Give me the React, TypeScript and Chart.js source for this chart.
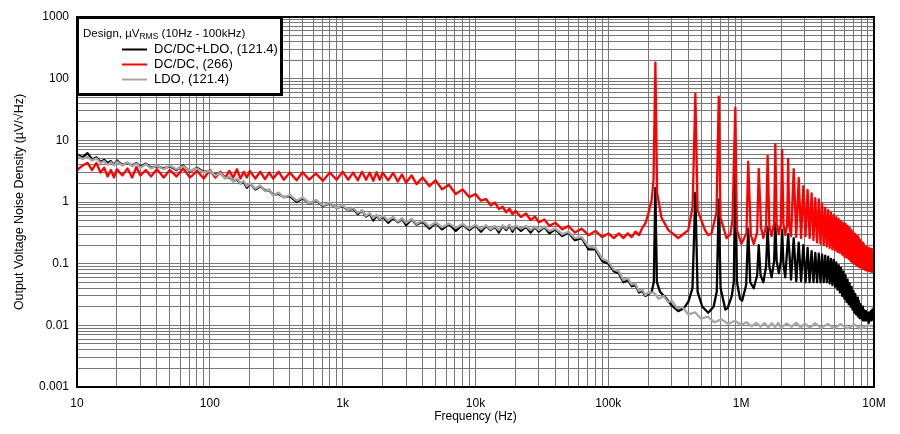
import React, { useEffect, useRef } from 'react';
import { Chart, registerables } from 'chart.js';

Chart.register(...registerables);

// ---------- data ----------
// broadband frequency grid, 10 Hz .. 200 kHz
const FREQ_BB = [
  10, 11, 12, 13, 14, 15, 16, 17, 18, 19, 20, 22, 24, 26, 28, 30, 33, 36, 40, 45, 50, 56, 63, 71, 80, 90,
  100, 110, 120, 130, 140, 150, 160, 170, 180, 190, 200, 220, 240, 260, 280, 300, 330, 360, 400, 450, 500, 560, 630, 710, 800, 900,
  1000, 1100, 1200, 1300, 1400, 1500, 1600, 1700, 1800, 1900, 2000, 2200, 2400, 2600, 2800, 3000, 3300, 3600, 4000, 4500, 5000, 5600, 6300, 7100, 8000, 9000,
  1e4, 1.1e4, 1.2e4, 1.3e4, 1.4e4, 1.5e4, 1.6e4, 1.7e4, 1.8e4, 1.9e4, 2e4, 2.2e4, 2.4e4, 2.6e4, 2.8e4, 3e4, 3.3e4, 3.6e4, 4e4, 4.5e4, 5e4, 5.6e4, 6.3e4, 7.1e4, 8e4, 9e4,
  1e5, 1.1e5, 1.2e5, 1.3e5, 1.4e5, 1.5e5, 1.6e5, 1.7e5, 1.8e5, 1.9e5, 2e5,
];

// LDO (grey)
const LDO_BB = [
  5.6, 5.0, 5.4, 4.7, 5.1, 4.3, 4.6, 4.0, 4.4, 3.9, 4.5, 3.9, 4.4, 3.8, 4.2, 3.6, 4.1, 3.5, 3.9, 3.4, 3.9, 3.4, 3.8, 3.2, 3.5, 3.0,
  3.2, 2.7, 2.95, 2.4, 2.6, 2.15, 2.4, 2.0, 2.2, 1.8, 2.0, 1.65, 1.85, 1.5, 1.6, 1.28, 1.42, 1.18, 1.3, 1.05, 1.18, 0.96, 1.07, 0.88, 0.97, 0.8,
  0.88, 0.74, 0.8, 0.67, 0.72, 0.6, 0.66, 0.55, 0.62, 0.53, 0.6, 0.5, 0.57, 0.48, 0.55, 0.46, 0.53, 0.44, 0.5, 0.4, 0.47, 0.39, 0.45, 0.38, 0.44, 0.37,
  0.43, 0.36, 0.42, 0.36, 0.41, 0.35, 0.42, 0.37, 0.43, 0.36, 0.42, 0.37, 0.41, 0.35, 0.4, 0.35, 0.4, 0.34, 0.37, 0.3, 0.33, 0.26, 0.27, 0.19, 0.18, 0.12,
  0.108, 0.08, 0.075, 0.054, 0.058, 0.046, 0.047, 0.036, 0.038, 0.031, 0.034,
];
const LDO_HF_FREQ = [
  2.2e5, 2.4e5, 2.6e5, 2.8e5, 3e5, 3.3e5, 3.6e5, 4e5, 4.5e5, 5e5, 5.6e5, 6.3e5, 7.1e5, 8e5, 9e5,
  1e6, 1.1e6, 1.2e6, 1.3e6, 1.4e6, 1.5e6, 1.6e6, 1.7e6, 1.8e6, 1.9e6, 2e6, 2.2e6, 2.4e6, 2.6e6, 2.8e6, 3e6, 3.3e6, 3.6e6, 4e6, 4.5e6, 5e6, 5.6e6, 6.3e6, 7.1e6, 8e6, 9e6,
  1e7,
];
const LDO_HF = [
  0.034, 0.027, 0.03, 0.024, 0.025, 0.019, 0.02, 0.015, 0.0162, 0.0128, 0.0138, 0.0112, 0.0125, 0.0106, 0.0118,
  0.0102, 0.0112, 0.0096, 0.011, 0.0095, 0.0109, 0.0093, 0.0108, 0.0094, 0.0109, 0.0092, 0.0107, 0.0095, 0.011, 0.0093, 0.0106, 0.0092, 0.0109, 0.0091, 0.0105, 0.009, 0.0104, 0.0089, 0.0103, 0.0088, 0.0101,
  0.0096,
];

// DC/DC+LDO (black)
const DCDC_LDO_BB = [
  5.9, 5.3, 6.2, 4.9, 5.3, 4.5, 4.8, 4.3, 4.6, 4.0, 4.7, 4.0, 4.3, 3.9, 4.3, 3.7, 4.2, 3.6, 3.8, 3.5, 3.8, 3.3, 3.9, 3.1, 3.6, 3.1,
  3.1, 2.8, 2.9, 2.5, 2.5, 2.2, 2.3, 2.0, 2.1, 1.7, 2.0, 1.6, 1.8, 1.55, 1.55, 1.3, 1.35, 1.2, 1.25, 1.0, 1.15, 0.95, 1.05, 0.86, 0.95, 0.8,
  0.86, 0.73, 0.78, 0.64, 0.72, 0.58, 0.64, 0.5, 0.6, 0.52, 0.58, 0.46, 0.55, 0.47, 0.53, 0.42, 0.52, 0.43, 0.48, 0.37, 0.46, 0.36, 0.44, 0.34, 0.43, 0.35,
  0.42, 0.33, 0.41, 0.35, 0.4, 0.32, 0.41, 0.35, 0.42, 0.33, 0.41, 0.34, 0.4, 0.32, 0.39, 0.33, 0.39, 0.31, 0.36, 0.28, 0.32, 0.24, 0.26, 0.17, 0.17, 0.11,
  0.1, 0.075, 0.07, 0.05, 0.055, 0.043, 0.045, 0.034, 0.036, 0.03, 0.032,
];
const DCDC_LDO_HF: [number, number][] = [
  [2.12e5, 0.035], [2.2e5, 0.05], [2.26e5, 1.7], [2.32e5, 0.05], [2.45e5, 0.035], [2.7e5, 0.028], [3e5, 0.021], [3.36e5, 0.017],
  [3.7e5, 0.019], [4e5, 0.024], [4.3e5, 0.04], [4.52e5, 1.4], [4.7e5, 0.035], [5.1e5, 0.02], [5.65e5, 0.016], [6.2e5, 0.02],
  [6.55e5, 0.035], [6.78e5, 1.1], [7e5, 0.04], [7.6e5, 0.018], [7.91e5, 0.019], [8.5e5, 0.03], [8.8e5, 0.05], [9.04e5, 3.3],
  [9.3e5, 0.05], [9.8e5, 0.027], [1.017e6, 0.025], [1.09e6, 0.045], [1.13e6, 0.37], [1.17e6, 0.05], [1.243e6, 0.04],
  [1.32e6, 0.065], [1.356e6, 0.2], [1.4e6, 0.065], [1.469e6, 0.05], [1.54e6, 0.09], [1.582e6, 0.39], [1.63e6, 0.09],
  [1.695e6, 0.06], [1.77e6, 0.11], [1.808e6, 0.46], [1.85e6, 0.11], [1.921e6, 0.07], [1.99e6, 0.11], [2.034e6, 0.35],
  [2.08e6, 0.1], [2.147e6, 0.06], [2.26e6, 0.3], [2.373e6, 0.055], [2.486e6, 0.26], [2.599e6, 0.052], [2.712e6, 0.22],
  [2.825e6, 0.052], [2.938e6, 0.2], [3.051e6, 0.05], [3.164e6, 0.18], [3.277e6, 0.05], [3.39e6, 0.16], [3.503e6, 0.05],
  [3.616e6, 0.15], [3.729e6, 0.05], [3.842e6, 0.145], [3.955e6, 0.05], [4.068e6, 0.14], [4.181e6, 0.05], [4.294e6, 0.135],
  [4.407e6, 0.05], [4.52e6, 0.13], [4.633e6, 0.048], [4.746e6, 0.12], [4.859e6, 0.045], [4.972e6, 0.115], [5.085e6, 0.042],
  [5.198e6, 0.105], [5.311e6, 0.038], [5.424e6, 0.095], [5.537e6, 0.034], [5.65e6, 0.085], [5.763e6, 0.03], [5.876e6, 0.075],
  [5.989e6, 0.027], [6.102e6, 0.065], [6.215e6, 0.024], [6.328e6, 0.055], [6.441e6, 0.022], [6.554e6, 0.048], [6.667e6, 0.02],
  [6.78e6, 0.042], [6.893e6, 0.018], [7.006e6, 0.036], [7.119e6, 0.016], [7.232e6, 0.032], [7.345e6, 0.015], [7.458e6, 0.028],
  [7.571e6, 0.014], [7.684e6, 0.025], [7.797e6, 0.013], [7.91e6, 0.022], [8.023e6, 0.013], [8.136e6, 0.02], [8.249e6, 0.012],
  [8.362e6, 0.018], [8.475e6, 0.012], [8.588e6, 0.017], [8.701e6, 0.012], [8.814e6, 0.016], [8.927e6, 0.012], [9.04e6, 0.016],
  [9.153e6, 0.011], [9.266e6, 0.016], [9.379e6, 0.012], [9.492e6, 0.017], [9.605e6, 0.012], [9.718e6, 0.018], [9.831e6, 0.013],
  [9.944e6, 0.019], [1e7, 0.015],
];

// DC/DC (red)
const DCDC_BB = [
  3.3, 3.9, 4.3, 3.3, 4.3, 3.0, 3.6, 2.6, 3.3, 2.5, 3.4, 2.7, 3.5, 2.5, 3.7, 2.7, 3.3, 2.6, 3.4, 2.5, 3.3, 2.6, 3.5, 2.5, 3.2, 2.4,
  3.3, 2.5, 3.1, 2.45, 3.2, 2.5, 3.4, 2.4, 3.1, 2.5, 3.2, 2.4, 3.1, 2.35, 3.0, 2.4, 3.1, 2.3, 3.0, 2.25, 3.05, 2.3, 2.9, 2.2, 3.0, 2.3,
  3.1, 2.3, 3.0, 2.25, 3.1, 2.3, 3.0, 2.2, 3.05, 2.3, 3.0, 2.25, 2.95, 2.15, 2.8, 2.05, 2.7, 1.95, 2.5, 1.8, 2.25, 1.6, 1.9, 1.35, 1.6, 1.2,
  1.35, 1.05, 1.12, 0.88, 0.98, 0.77, 0.84, 0.68, 0.78, 0.63, 0.72, 0.57, 0.65, 0.51, 0.58, 0.47, 0.52, 0.41, 0.46, 0.36, 0.41, 0.32, 0.37, 0.29, 0.34, 0.27,
  0.31, 0.26, 0.31, 0.26, 0.31, 0.27, 0.33, 0.29, 0.38, 0.45, 0.64,
];
const DCDC_HF: [number, number][] = [
  [2.12e5, 1.08], [2.19e5, 2.3], [2.26e5, 182], [2.33e5, 1.4], [2.51e5, 0.56], [2.83e5, 0.35], [3.1e5, 0.3], [3.36e5, 0.26],
  [3.65e5, 0.3], [4e5, 0.35], [4.31e5, 0.84], [4.52e5, 57], [4.7e5, 0.74], [5.34e5, 0.35], [5.65e5, 0.29], [5.98e5, 0.31],
  [6.52e5, 0.67], [6.78e5, 51], [6.99e5, 0.56], [7.76e5, 0.26], [8.3e5, 0.3], [8.6e5, 0.51], [9.04e5, 34], [9.28e5, 0.35],
  [1.005e6, 0.21], [1.096e6, 0.31], [1.13e6, 4.5], [1.183e6, 0.29], [1.243e6, 0.21], [1.319e6, 0.32], [1.356e6, 3.45],
  [1.413e6, 0.38], [1.469e6, 0.26], [1.54e6, 0.41], [1.582e6, 5.6], [1.63e6, 0.4], [1.695e6, 0.28], [1.77e6, 0.45],
  [1.808e6, 8.7], [1.85e6, 0.45], [1.921e6, 0.3], [1.99e6, 0.45], [2.034e6, 7.0], [2.08e6, 0.44], [2.147e6, 0.29],
  [2.22e6, 0.43], [2.26e6, 5.0], [2.3e6, 0.42], [2.373e6, 0.28], [2.486e6, 3.4], [2.599e6, 0.27], [2.712e6, 2.45],
  [2.825e6, 0.26], [2.938e6, 1.8], [3.051e6, 0.28], [3.164e6, 1.57], [3.277e6, 0.26], [3.39e6, 1.38], [3.503e6, 0.24],
  [3.616e6, 1.15], [3.729e6, 0.22], [3.842e6, 1.1], [3.955e6, 0.21], [4.068e6, 0.93], [4.181e6, 0.2], [4.294e6, 0.81],
  [4.407e6, 0.19], [4.52e6, 0.74], [4.633e6, 0.18], [4.746e6, 0.67], [4.859e6, 0.17], [4.972e6, 0.61], [5.085e6, 0.165],
  [5.198e6, 0.57], [5.311e6, 0.155], [5.424e6, 0.53], [5.537e6, 0.15], [5.65e6, 0.49], [5.763e6, 0.14], [5.876e6, 0.46],
  [5.989e6, 0.13], [6.102e6, 0.44], [6.215e6, 0.125], [6.328e6, 0.41], [6.441e6, 0.12], [6.554e6, 0.38], [6.667e6, 0.11],
  [6.78e6, 0.35], [6.893e6, 0.105], [7.006e6, 0.32], [7.119e6, 0.1], [7.232e6, 0.3], [7.345e6, 0.095], [7.458e6, 0.28],
  [7.571e6, 0.09], [7.684e6, 0.26], [7.797e6, 0.088], [7.91e6, 0.24], [8.023e6, 0.085], [8.136e6, 0.22], [8.249e6, 0.083],
  [8.362e6, 0.21], [8.475e6, 0.08], [8.588e6, 0.19], [8.701e6, 0.078], [8.814e6, 0.18], [8.927e6, 0.077], [9.04e6, 0.18],
  [9.153e6, 0.076], [9.266e6, 0.175], [9.379e6, 0.075], [9.492e6, 0.175], [9.605e6, 0.074], [9.718e6, 0.17], [9.831e6, 0.074],
  [9.944e6, 0.17], [1e7, 0.12],
];

const SERIES_LABELS = ['DC/DC+LDO, (121.4)', 'DC/DC, (266)', 'LDO, (121.4)'];
const SERIES_COLORS = ['#000000', '#ff0000', '#a6a6a6'];
const LEGEND_TITLE = ['Design, \u00b5V', 'RMS', ' (10Hz - 100kHz)'];

const X_TICK_VALUES = [10, 100, 1e3, 1e4, 1e5, 1e6, 1e7];
const X_TICK_LABELS = ['10', '100', '1k', '10k', '100k', '1M', '10M'];
const Y_TICK_VALUES = [0.001, 0.01, 0.1, 1, 10, 100, 1000];
const Y_TICK_LABELS = ['0.001', '0.01', '0.1', '1', '10', '100', '1000'];
const X_TITLE = 'Frequency (Hz)';
const Y_TITLE = 'Output Voltage Noise Density (\u00b5V/\u221aHz)';

const FONT = '"Liberation Sans", Arial, Helvetica, sans-serif';

// ---------- helpers ----------
const toPoints = (xs: number[], ys: number[]) => xs.map((x, i) => ({ x, y: ys[i] }));
const pairPoints = (p: [number, number][]) => p.map(([x, y]) => ({ x, y }));

// grid lines at 1..9 x each decade
const decadeGrid = (decades: number[]) => {
  const out: number[] = [];
  for (let i = 0; i < decades.length - 1; i++) {
    for (let m = 1; m <= 9; m++) out.push(parseFloat((m * decades[i]).toPrecision(6)));
  }
  out.push(decades[decades.length - 1]);
  return out;
};

const labelFor = (values: number[], labels: string[]) => (v: number | string) => {
  const n = Number(v);
  const i = values.findIndex((t) => Math.abs(t - n) <= t * 1e-6);
  return i >= 0 ? labels[i] : '';
};

const legendPlugin = {
  id: 'boxLegend',
  afterDatasetsDraw(chart: any) {
    const { ctx, chartArea: a } = chart;
    ctx.save();
    const bx = a.left;
    const by = a.top;
    const bw = 204;
    const bh = 77;
    ctx.fillStyle = '#ffffff';
    ctx.fillRect(bx, by, bw, bh);
    ctx.strokeStyle = '#000000';
    ctx.lineWidth = 3;
    ctx.strokeRect(bx + 0.5, by + 0.5, bw, bh);

    // title with subscript
    ctx.fillStyle = '#000000';
    ctx.textBaseline = 'middle';
    ctx.textAlign = 'left';
    let tx = bx + 6;
    const ty = by + 16.5;
    ctx.font = `11.5px ${FONT}`;
    ctx.fillText(LEGEND_TITLE[0], tx, ty);
    tx += ctx.measureText(LEGEND_TITLE[0]).width;
    ctx.font = `8.5px ${FONT}`;
    ctx.fillText(LEGEND_TITLE[1], tx, ty + 3.5);
    tx += ctx.measureText(LEGEND_TITLE[1]).width;
    ctx.font = `11.5px ${FONT}`;
    ctx.fillText(LEGEND_TITLE[2], tx, ty);

    chart.data.datasets.forEach((ds: any, i: number) => {
      const y = by + 32.5 + i * 15;
      ctx.strokeStyle = ds.borderColor;
      ctx.lineWidth = 2;
      ctx.beginPath();
      ctx.moveTo(bx + 45, y);
      ctx.lineTo(bx + 70, y);
      ctx.stroke();
      ctx.fillStyle = '#000000';
      ctx.font = `13px ${FONT}`;
      ctx.fillText(ds.label, bx + 77, y);
    });

    // plot frame
    ctx.strokeStyle = '#000000';
    ctx.lineWidth = 2;
    ctx.strokeRect(a.left, a.top, a.right - a.left, a.bottom - a.top);
    ctx.restore();
  },
};

export default function App() {
  const ref = useRef<HTMLCanvasElement | null>(null);

  useEffect(() => {
    if (!ref.current) return;
    Chart.defaults.font.family = FONT;
    Chart.defaults.font.size = 12;
    Chart.defaults.color = '#000000';

    const xGrid = decadeGrid(X_TICK_VALUES);
    const yGrid = decadeGrid(Y_TICK_VALUES);
    const gridColor = '#777777';

    const chart = new Chart(ref.current, {
      type: 'line',
      data: {
        datasets: [
          {
            label: SERIES_LABELS[0],
            data: [...toPoints(FREQ_BB, DCDC_LDO_BB), ...pairPoints(DCDC_LDO_HF)],
            borderColor: SERIES_COLORS[0],
            order: 3,
          },
          {
            label: SERIES_LABELS[1],
            data: [...toPoints(FREQ_BB, DCDC_BB), ...pairPoints(DCDC_HF)],
            borderColor: SERIES_COLORS[1],
            order: 2,
          },
          {
            label: SERIES_LABELS[2],
            data: [...toPoints(FREQ_BB, LDO_BB), ...toPoints(LDO_HF_FREQ, LDO_HF)],
            borderColor: SERIES_COLORS[2],
            order: 1,
          },
        ].map((d) => ({
          ...d,
          borderWidth: 2.3,
          pointRadius: 0,
          pointHoverRadius: 0,
          tension: 0,
          fill: false,
          borderJoinStyle: 'round' as const,
        })),
      },
      options: {
        responsive: false,
        devicePixelRatio: 1,
        animation: false,
        events: [],
        layout: { padding: { top: 17, right: 26, bottom: 0, left: 0 } },
        plugins: { legend: { display: false }, tooltip: { enabled: false } },
        scales: {
          x: {
            type: 'logarithmic',
            min: 10,
            max: 1e7,
            afterBuildTicks: (s: any) => {
              s.ticks = xGrid.map((v) => ({ value: v }));
            },
            afterFit: (s: any) => {
              s.height = 47;
            },
            grid: { color: gridColor, lineWidth: 1, drawTicks: false },
            border: { display: false },
            ticks: {
              autoSkip: false,
              maxRotation: 0,
              padding: 9,
              color: '#000000',
              font: { size: 12 },
              callback: labelFor(X_TICK_VALUES, X_TICK_LABELS),
            },
            title: {
              display: true,
              text: X_TITLE,
              color: '#000000',
              font: { size: 12 },
              padding: { top: 0, bottom: 10 },
            },
          },
          y: {
            type: 'logarithmic',
            min: 0.001,
            max: 1000,
            afterBuildTicks: (s: any) => {
              s.ticks = yGrid.map((v) => ({ value: v }));
            },
            afterFit: (s: any) => {
              s.width = 77;
            },
            grid: { color: gridColor, lineWidth: 1, drawTicks: false },
            border: { display: false },
            ticks: {
              autoSkip: false,
              padding: 8,
              color: '#000000',
              font: { size: 12 },
              callback: labelFor(Y_TICK_VALUES, Y_TICK_LABELS),
            },
            title: {
              display: true,
              text: Y_TITLE,
              color: '#000000',
              font: { size: 12.5 },
              padding: { top: 12, bottom: 0 },
            },
          },
        },
      },
      plugins: [legendPlugin],
    } as any);

    return () => chart.destroy();
  }, []);

  return (
    <div style={{ position: 'absolute', left: 0, top: 0, width: 900, height: 434, background: '#ffffff' }}>
      <canvas ref={ref} width={900} height={434} style={{ display: 'block', width: 900, height: 434 }} />
    </div>
  );
}
